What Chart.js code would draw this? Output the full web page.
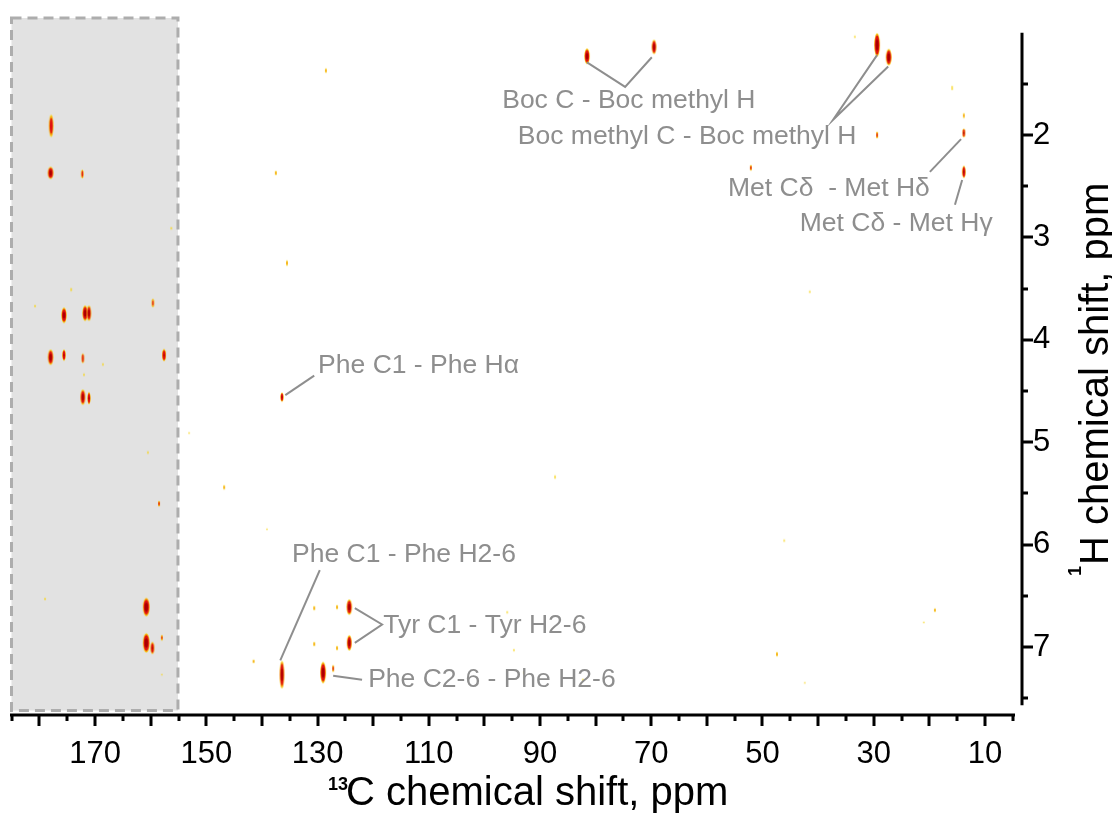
<!DOCTYPE html>
<html>
<head>
<meta charset="utf-8">
<script src="https://cdn.jsdelivr.net/npm/chart.js@4.4.0/dist/chart.umd.min.js"></script>
<style>
  html, body { margin: 0; padding: 0; background: #fff; }
</style>
</head>
<body>
<canvas id="nmr" width="1112" height="814"></canvas>
<script>
// cross peaks: 13C shift, 1H shift, relative intensity, widths (ppm)
const peakC = [177.9, 178.0, 172.3, 175.6, 171.8, 171.1, 178.0, 175.6, 172.2, 157.6, 159.6, 172.2, 171.1,
  160.8, 160.8, 159.7, 158.0, 136.4, 129.0, 127.2, 124.3, 124.3, 130.6, 126.5, 130.6, 126.5, 136.4,
  81.55, 69.5, 52.1, 29.4, 27.3, 29.4, 13.8, 13.8, 13.8, 15.9, 33.4, 41.5,
  128.5, 137.5, 135.5, 156.3, 174.3, 180.8, 168.6, 172.0, 153.1, 160.5, 158.5, 146.8, 139.1, 179.0,
  141.5, 158.0, 87.3, 46.1, 95.9, 94.7, 47.4, 92.9, 82.3, 19.0, 21.0, 42.4];
const peakH = [1.91, 2.37, 2.38, 3.76, 3.74, 3.74, 4.17, 4.15, 4.18, 4.15, 3.64, 4.56, 4.57,
  6.61, 6.96, 7.01, 6.91, 7.27, 7.25, 7.21, 6.61, 6.96, 6.62, 6.61, 6.97, 7.01, 4.56,
  1.23, 1.14, 2.32, 1.12, 1.24, 2.00, 1.98, 2.36, 1.81, 1.54, 1.04, 3.53,
  1.37, 2.37, 3.25, 2.91, 3.51, 3.67, 4.24, 4.34, 4.91, 5.10, 5.60, 5.44, 5.85, 6.53,
  7.14, 7.27, 5.34, 5.96, 6.66, 7.03, 7.07, 7.25, 7.32, 6.64, 6.76, 7.35];
const peakAmp = [0.45, 0.9, 0.4, 0.85, 0.95, 0.9, 0.95, 0.6, 0.55, 0.6, 0.3, 0.85, 0.6,
  1.0, 1.0, 0.6, 0.25, 0.9, 0.95, 0.3, 0.85, 0.85, 0.15, 0.15, 0.15, 0.15, 0.6,
  0.85, 0.9, 0.3, 1.0, 1.0, 0.3, 0.6, 0.7, 0.15, 0.12, 0.1, 0.1,
  0.15, 0.15, 0.15, 0.12, 0.12, 0.12, 0.12, 0.12, 0.1, 0.1, 0.3, 0.15, 0.1, 0.12,
  0.15, 0.1, 0.12, 0.1, 0.1, 0.1, 0.15, 0.12, 0.1, 0.15, 0.1, 0.1];
const peakWidthC = [0.8, 1.0, 0.4, 0.95, 0.95, 0.75, 0.95, 0.6, 0.4, 0.7, 0.4, 0.85, 0.55,
  1.2, 1.2, 0.65, 0.35, 0.8, 1.0, 0.35, 0.95, 0.85, 0.3, 0.3, 0.3, 0.3, 0.55,
  0.95, 0.8, 0.35, 1.0, 1.0, 0.35, 0.45, 0.6, 0.25, 0.25, 0.2, 0.2,
  0.3, 0.3, 0.3, 0.25, 0.25, 0.25, 0.25, 0.25, 0.25, 0.25, 0.35, 0.3, 0.2, 0.25,
  0.3, 0.2, 0.25, 0.2, 0.2, 0.2, 0.3, 0.25, 0.2, 0.3, 0.2, 0.2];
const peakWidthH = [0.22, 0.12, 0.09, 0.15, 0.15, 0.15, 0.15, 0.11, 0.10, 0.12, 0.09, 0.15, 0.12,
  0.18, 0.19, 0.12, 0.06, 0.27, 0.21, 0.07, 0.15, 0.15, 0.05, 0.05, 0.05, 0.05, 0.09,
  0.15, 0.14, 0.06, 0.23, 0.16, 0.07, 0.09, 0.12, 0.06, 0.05, 0.03, 0.03,
  0.05, 0.05, 0.06, 0.03, 0.04, 0.03, 0.03, 0.03, 0.02, 0.03, 0.06, 0.05, 0.02, 0.03,
  0.04, 0.02, 0.04, 0.03, 0.03, 0.03, 0.05, 0.04, 0.03, 0.04, 0.02, 0.02];

const xTickLabels = [170, 150, 130, 110, 90, 70, 50, 30, 10];
const yTickLabels = [2, 3, 4, 5, 6, 7];
const xRange = [4.6, 185.3];
const yRange = [0.857, 7.664];
const carbonylBoxC = [185.3, 155.1];
const carbonylBoxH = [0.857, 7.62];

// assignment labels: anchor of the text and leader lines, in ppm
const notes = [
  { text: 'Boc C - Boc methyl H', at: [96.8, 1.66], lines: [[[81.55, 1.29], [74.7, 1.53], [69.9, 1.24]]] },
  { text: 'Boc methyl C - Boc methyl H', at: [94.0, 2.02], lines: [[[29.4, 1.22], [37.3, 1.85], [27.4, 1.33]]] },
  { text: 'Met C\u03b4  - Met H\u03b4', at: [56.2, 2.52], lines: [[[19.9, 2.36], [14.3, 2.04]]] },
  { text: 'Met C\u03b4 - Met H\u03b3', at: [43.3, 2.87], lines: [[[15.4, 2.68], [14.1, 2.44]]] },
  { text: 'Phe C1 - Phe H\u03b1', at: [129.9, 4.25], lines: [[[130.6, 4.35], [135.8, 4.54]]] },
  { text: 'Phe C1 - Phe H2-6', at: [134.6, 6.10], lines: [[[129.6, 6.25], [136.7, 7.13]]] },
  { text: 'Tyr C1 - Tyr H2-6', at: [118.2, 6.79], lines: [[[123.3, 6.62], [118.4, 6.78], [123.3, 6.96]]] },
  { text: 'Phe C2-6 - Phe H2-6', at: [120.9, 7.32], lines: [[[127.2, 7.28], [122.0, 7.32]]] }
];

const FONT = '"Liberation Sans", Arial, sans-serif';
const contourLevels = [[0.08, '#f7d51d'], [0.12, '#f5990c'], [0.2, '#e01010'], [0.55, '#a80000']];
const sprites = {};

function makeSprite(amp, wpx, hpx) {
  const cv = document.createElement('canvas');
  cv.width = Math.ceil(wpx) + 4;
  cv.height = Math.ceil(hpx) + 4;
  const g = cv.getContext('2d');
  const cx = cv.width / 2, cy = cv.height / 2;
  const outer = Math.sqrt(2 * Math.log(amp / contourLevels[0][0]));
  contourLevels.forEach(([lv, col]) => {
    if (amp <= lv) return;
    const f = Math.sqrt(2 * Math.log(amp / lv)) / outer;
    g.fillStyle = col;
    g.beginPath();
    g.ellipse(cx, cy, Math.max(wpx / 2 * f, 0.6), Math.max(hpx / 2 * f, 0.9), 0, 0, Math.PI * 2);
    g.fill();
  });
  return cv;
}

function peakStyle(ctx) {
  const i = ctx.dataIndex;
  if (sprites[i]) return sprites[i];
  const xs = ctx.chart.scales.x, ys = ctx.chart.scales.y;
  if (!xs || !ys) return 'circle';
  const w = Math.abs(xs.getPixelForValue(peakC[i] - peakWidthC[i] / 2) - xs.getPixelForValue(peakC[i] + peakWidthC[i] / 2));
  const h = Math.abs(ys.getPixelForValue(peakH[i] - peakWidthH[i] / 2) - ys.getPixelForValue(peakH[i] + peakWidthH[i] / 2));
  if (!isFinite(w) || !isFinite(h) || w <= 0 || h <= 0 || ys.height < 100) return 'circle';
  sprites[i] = makeSprite(peakAmp[i], w, h);
  return sprites[i];
}

const boxPlugin = {
  id: 'carbonylBox',
  beforeDatasetsDraw(chart) {
    const { ctx, scales: { x, y } } = chart;
    const x0 = x.getPixelForValue(carbonylBoxC[0]) + 1.5, x1 = x.getPixelForValue(carbonylBoxC[1]);
    const y0 = y.getPixelForValue(carbonylBoxH[0]), y1 = y.getPixelForValue(carbonylBoxH[1]);
    ctx.save();
    ctx.fillStyle = '#e2e2e2';
    ctx.fillRect(x0, y0, x1 - x0, y1 - y0);
    ctx.strokeStyle = '#adadad';
    ctx.lineWidth = 3;
    ctx.setLineDash([10, 6]);
    ctx.strokeRect(x0, y0, x1 - x0, y1 - y0);
    ctx.restore();
  }
};

const notesPlugin = {
  id: 'notes',
  afterDatasetsDraw(chart) {
    const { ctx, scales: { x, y } } = chart;
    ctx.save();
    ctx.strokeStyle = '#8e8e8e';
    ctx.fillStyle = '#8e8e8e';
    ctx.lineWidth = 2;
    ctx.font = '26.5px ' + FONT;
    ctx.textBaseline = 'middle';
    ctx.textAlign = 'left';
    notes.forEach(n => {
      n.lines.forEach(path => {
        ctx.beginPath();
        path.forEach(([c, h], k) => {
          const px = x.getPixelForValue(c), py = y.getPixelForValue(h);
          if (k === 0) ctx.moveTo(px, py); else ctx.lineTo(px, py);
        });
        ctx.stroke();
      });
      ctx.fillText(n.text, x.getPixelForValue(n.at[0]), y.getPixelForValue(n.at[1]));
    });
    ctx.restore();
  }
};

// axis lines, tick marks and titles, offset from the frame like the original plot
const axesPlugin = {
  id: 'axes',
  afterDraw(chart) {
    const { ctx, chartArea: a, scales: { x, y } } = chart;
    ctx.save();
    ctx.strokeStyle = '#000';
    ctx.lineWidth = 3;
    const xb = a.bottom;
    ctx.beginPath();
    ctx.moveTo(a.left, xb); ctx.lineTo(a.right, xb);
    for (let v = 5; v <= 185; v += 5) {
      const px = Math.round(x.getPixelForValue(v));
      ctx.moveTo(px, xb); ctx.lineTo(px, xb + (v % 10 === 0 ? 11 : 6));
    }
    ctx.stroke();

    const yl = a.right + 7;
    ctx.beginPath();
    ctx.moveTo(yl, y.getPixelForValue(1.0)); ctx.lineTo(yl, y.getPixelForValue(7.57));
    for (let v = 1.5; v <= 7.5; v += 0.5) {
      const py = Math.round(y.getPixelForValue(v));
      ctx.moveTo(yl, py); ctx.lineTo(yl + (v % 1 === 0 ? 11 : 6), py);
    }
    ctx.stroke();

    ctx.fillStyle = '#000';
    ctx.textBaseline = 'alphabetic';
    ctx.textAlign = 'left';
    // x title
    ctx.font = 'bold 18px ' + FONT;
    ctx.fillText('13', 328, 790);
    ctx.font = '40px ' + FONT;
    ctx.fillText('C chemical shift, ppm', 346, 805);
    // y title, reading bottom to top
    ctx.translate(1108, 577);
    ctx.rotate(-Math.PI / 2);
    ctx.font = 'bold 18px ' + FONT;
    ctx.fillText('1', 1, -27);
    ctx.font = '40px ' + FONT;
    ctx.fillText('H chemical shift, ppm', 12, 0);
    ctx.restore();
  }
};

new Chart(document.getElementById('nmr'), {
  type: 'scatter',
  data: {
    datasets: [{
      label: 'HETCOR',
      data: peakC.map((c, i) => ({ x: c, y: peakH[i] })),
      pointStyle: peakStyle,
      pointRadius: 3,
      pointHoverRadius: 3,
      pointBackgroundColor: 'rgba(0,0,0,0)',
      pointBorderColor: 'rgba(0,0,0,0)'
    }]
  },
  options: {
    responsive: false,
    devicePixelRatio: 1,
    animation: false,
    events: [],
    layout: { padding: { left: 10, top: 18, right: 0, bottom: 0 } },
    plugins: { legend: { display: false }, tooltip: { enabled: false } },
    scales: {
      x: {
        type: 'linear',
        position: 'bottom',
        reverse: true,
        min: xRange[0],
        max: xRange[1],
        grid: { display: false, drawTicks: false },
        border: { display: false },
        ticks: {
          stepSize: 10,
          includeBounds: false,
          autoSkip: false,
          maxRotation: 0,
          padding: 21,
          color: '#000',
          font: { family: FONT, size: 31 },
          callback: v => xTickLabels.includes(v) ? String(v) : ''
        },
        afterFit: s => { s.height = 99; s.paddingLeft = 0; s.paddingRight = 0; }
      },
      y: {
        type: 'linear',
        position: 'right',
        reverse: true,
        min: yRange[0],
        max: yRange[1],
        grid: { display: false, drawTicks: false },
        border: { display: false },
        ticks: {
          stepSize: 1,
          includeBounds: false,
          autoSkip: false,
          padding: 18,
          color: '#000',
          font: { family: FONT, size: 31 },
          callback: v => yTickLabels.includes(v) ? String(v) : ''
        },
        afterFit: s => { s.width = 97; s.paddingTop = 0; s.paddingBottom = 0; }
      }
    }
  },
  plugins: [boxPlugin, notesPlugin, axesPlugin]
});
</script>
</body>
</html>
